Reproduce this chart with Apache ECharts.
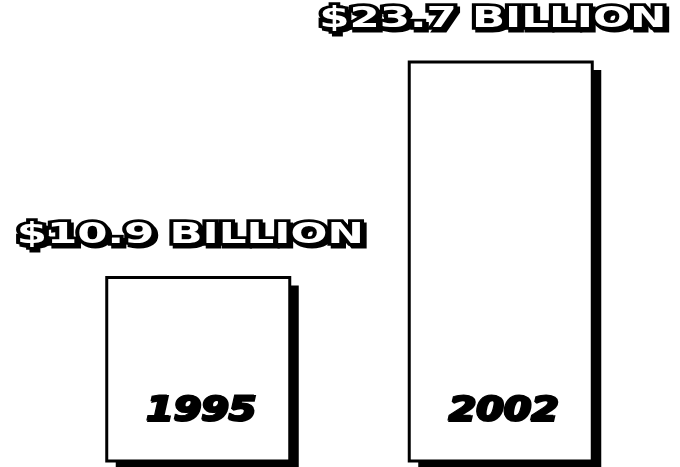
<!DOCTYPE html>
<html>
<head>
<meta charset="utf-8">
<style>
  html, body { margin: 0; padding: 0; background: #fff; }
  #chart { width: 680px; height: 467px; }
</style>
<script src="https://cdn.jsdelivr.net/npm/echarts@6/dist/echarts.min.js"></script>
</head>
<body>
<div id="chart"></div>
<script>
// Revenue in billions of dollars, by year
const years = ['1995', '2002'];
const revenue = [10.9, 23.7];

const chart = echarts.init(document.getElementById('chart'), null, { renderer: 'canvas' });

const BAR_RATIO = 0.605;   // bar width as a share of the category band
const SHADOW_DX = 9;
const SHADOW_DY = 8;

// Heavy, horizontally stretched caption drawn above a bar
function captionText(x, y, text) {
  const base = {
    font: 'bold 29px "DejaVu Sans"',
    align: 'center', verticalAlign: 'bottom',
    textAlign: 'center', textVerticalAlign: 'bottom'
  };
  return {
    type: 'group',
    children: [
      { // drop shadow layer
        type: 'text', x: x + 3, y: y + 3, scaleX: 1.5,
        style: Object.assign({ text: text, fill: '#000', stroke: '#000', lineWidth: 5 }, base)
      },
      { // outlined face
        type: 'text', x: x, y: y, scaleX: 1.5,
        style: Object.assign({ text: text, fill: '#fff', stroke: '#000', lineWidth: 5.5 }, base)
      }
    ]
  };
}

function yearText(x, y, text) {
  const base = {
    font: 'italic bold 33px "DejaVu Sans"',
    align: 'center', verticalAlign: 'middle',
    textAlign: 'center', textVerticalAlign: 'middle'
  };
  return {
    type: 'group',
    children: [
      {
        type: 'text', x: x + 1.5, y: y + 1.5, scaleX: 1.2,
        style: Object.assign({ text: text, fill: '#000', stroke: '#000', lineWidth: 2 }, base)
      },
      {
        type: 'text', x: x, y: y, scaleX: 1.2,
        style: Object.assign({ text: text, fill: '#000', stroke: '#000', lineWidth: 1 }, base)
      }
    ]
  };
}

chart.setOption({
  animation: false,
  backgroundColor: '#fff',
  grid: { left: 47, width: 605, top: 57, bottom: 6 },
  xAxis: {
    type: 'category',
    data: years,
    boundaryGap: true,
    axisLine: { show: false },
    axisTick: { show: false },
    axisLabel: { show: false },
    splitLine: { show: false }
  },
  yAxis: {
    type: 'value',
    min: 0,
    max: 24,
    show: false,
    splitLine: { show: false }
  },
  series: [
    {
      type: 'custom',
      data: revenue.map((v, i) => [i, v]),
      renderItem: function (params, api) {
        const i = api.value(0);
        const v = api.value(1);
        const top = api.coord([i, v]);
        const base = api.coord([i, 0]);
        const w = api.size([1, 0])[0] * BAR_RATIO;
        const x0 = top[0] - w / 2;
        const h = base[1] - top[1];
        return {
          type: 'group',
          children: [
            { // solid offset shadow
              type: 'rect',
              shape: { x: x0 + SHADOW_DX, y: top[1] + SHADOW_DY, width: w, height: h },
              style: { fill: '#000' }
            },
            { // white bar with black outline
              type: 'rect',
              shape: { x: x0, y: top[1], width: w, height: h },
              style: { fill: '#fff', stroke: '#000', lineWidth: 3 }
            },
            captionText(top[0] - 8, top[1] - 28, '$' + v.toFixed(1) + ' BILLION'),
            yearText(base[0] + 2, base[1] - 50, years[i])
          ]
        };
      }
    }
  ]
});
</script>
</body>
</html>
